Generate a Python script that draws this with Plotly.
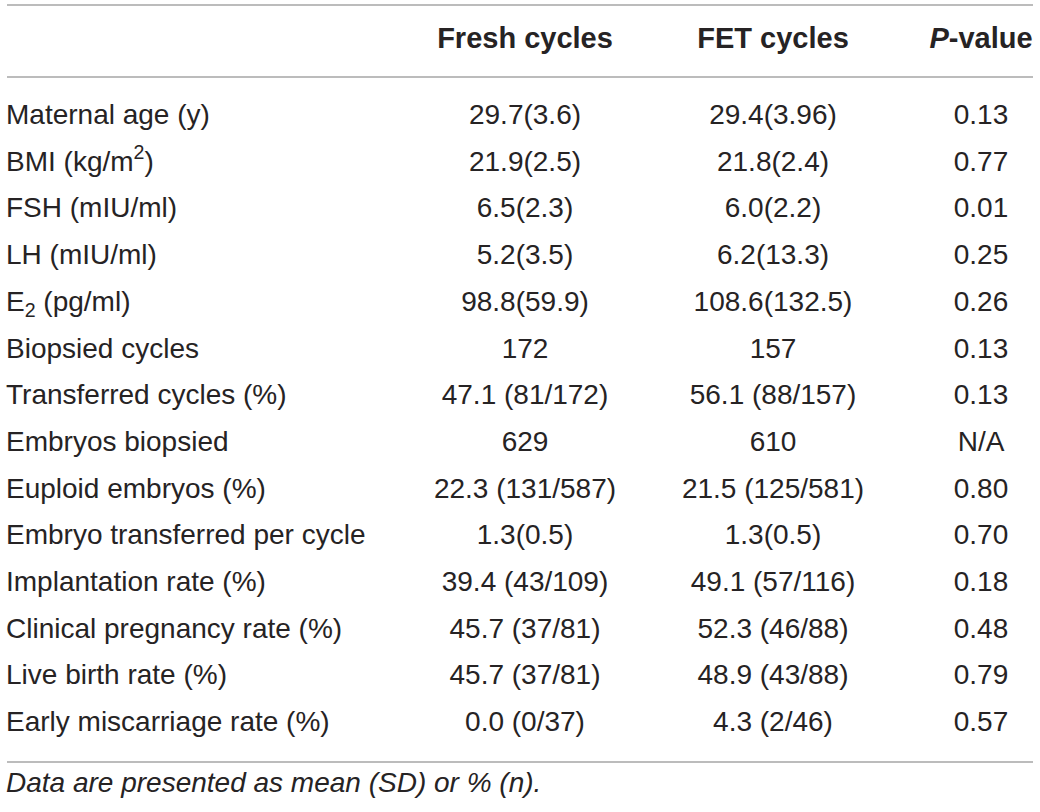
import plotly.graph_objects as go

# table content
headers = ["<b>Fresh cycles</b>", "<b>FET cycles</b>", "<b><i>P</i>-value</b>"]
labels = [
    "Maternal age (y)",
    "BMI (kg/m<sup>2</sup>)",
    "FSH (mIU/ml)",
    "LH (mIU/ml)",
    "E<sub>2</sub> (pg/ml)",
    "Biopsied cycles",
    "Transferred cycles (%)",
    "Embryos biopsied",
    "Euploid embryos (%)",
    "Embryo transferred per cycle",
    "Implantation rate (%)",
    "Clinical pregnancy rate (%)",
    "Live birth rate (%)",
    "Early miscarriage rate (%)",
]
fresh = [
    "29.7(3.6)", "21.9(2.5)", "6.5(2.3)", "5.2(3.5)", "98.8(59.9)", "172",
    "47.1 (81/172)", "629", "22.3 (131/587)", "1.3(0.5)", "39.4 (43/109)",
    "45.7 (37/81)", "45.7 (37/81)", "0.0 (0/37)",
]
fet = [
    "29.4(3.96)", "21.8(2.4)", "6.0(2.2)", "6.2(13.3)", "108.6(132.5)", "157",
    "56.1 (88/157)", "610", "21.5 (125/581)", "1.3(0.5)", "49.1 (57/116)",
    "52.3 (46/88)", "48.9 (43/88)", "4.3 (2/46)",
]
pvals = ["0.13", "0.77", "0.01", "0.25", "0.26", "0.13", "0.13", "N/A",
         "0.80", "0.70", "0.18", "0.48", "0.79", "0.57"]
footnote = "<i>Data are presented as mean (SD) or % (n).</i>"

W, H = 1040, 812
FONT = "Liberation Sans, Arial, Helvetica, sans-serif"
INK = "#262324"
RULE = "#a6a6a6"

row0, step = 117, 46.7
ys = [row0 + step * i for i in range(len(labels))]
col_x = [525, 773, 981]

fig = go.Figure()

fig.add_trace(go.Scatter(
    x=[6] * len(labels), y=ys, text=labels, mode="text",
    textposition="middle right",
    textfont=dict(family=FONT, size=28, color=INK),
    hoverinfo="skip", showlegend=False,
))
for cx, col in zip(col_x, [fresh, fet, pvals]):
    fig.add_trace(go.Scatter(
        x=[cx] * len(col), y=ys, text=col, mode="text",
        textposition="middle center",
        textfont=dict(family=FONT, size=28, color=INK),
        hoverinfo="skip", showlegend=False,
    ))

fig.add_trace(go.Scatter(
    x=col_x, y=[41] * 3, text=headers, mode="text",
    textposition="middle center",
    textfont=dict(family=FONT, size=29, color=INK),
    hoverinfo="skip", showlegend=False,
))
fig.add_trace(go.Scatter(
    x=[6], y=[785], text=[footnote], mode="text",
    textposition="middle right",
    textfont=dict(family=FONT, size=28, color=INK),
    hoverinfo="skip", showlegend=False,
))

for yl in [5, 77, 762]:
    fig.add_shape(type="line", x0=7, x1=1033, y0=yl, y1=yl,
                  line=dict(color=RULE, width=1.6), layer="below")

fig.update_layout(
    width=W, height=H,
    margin=dict(l=0, r=0, t=0, b=0),
    paper_bgcolor="white", plot_bgcolor="white",
    xaxis=dict(range=[0, W], visible=False, fixedrange=True),
    yaxis=dict(range=[H, 0], visible=False, fixedrange=True),
)

fig.write_html("out.html", config={"displayModeBar": False},
               post_script="document.body.style.margin='0';")
